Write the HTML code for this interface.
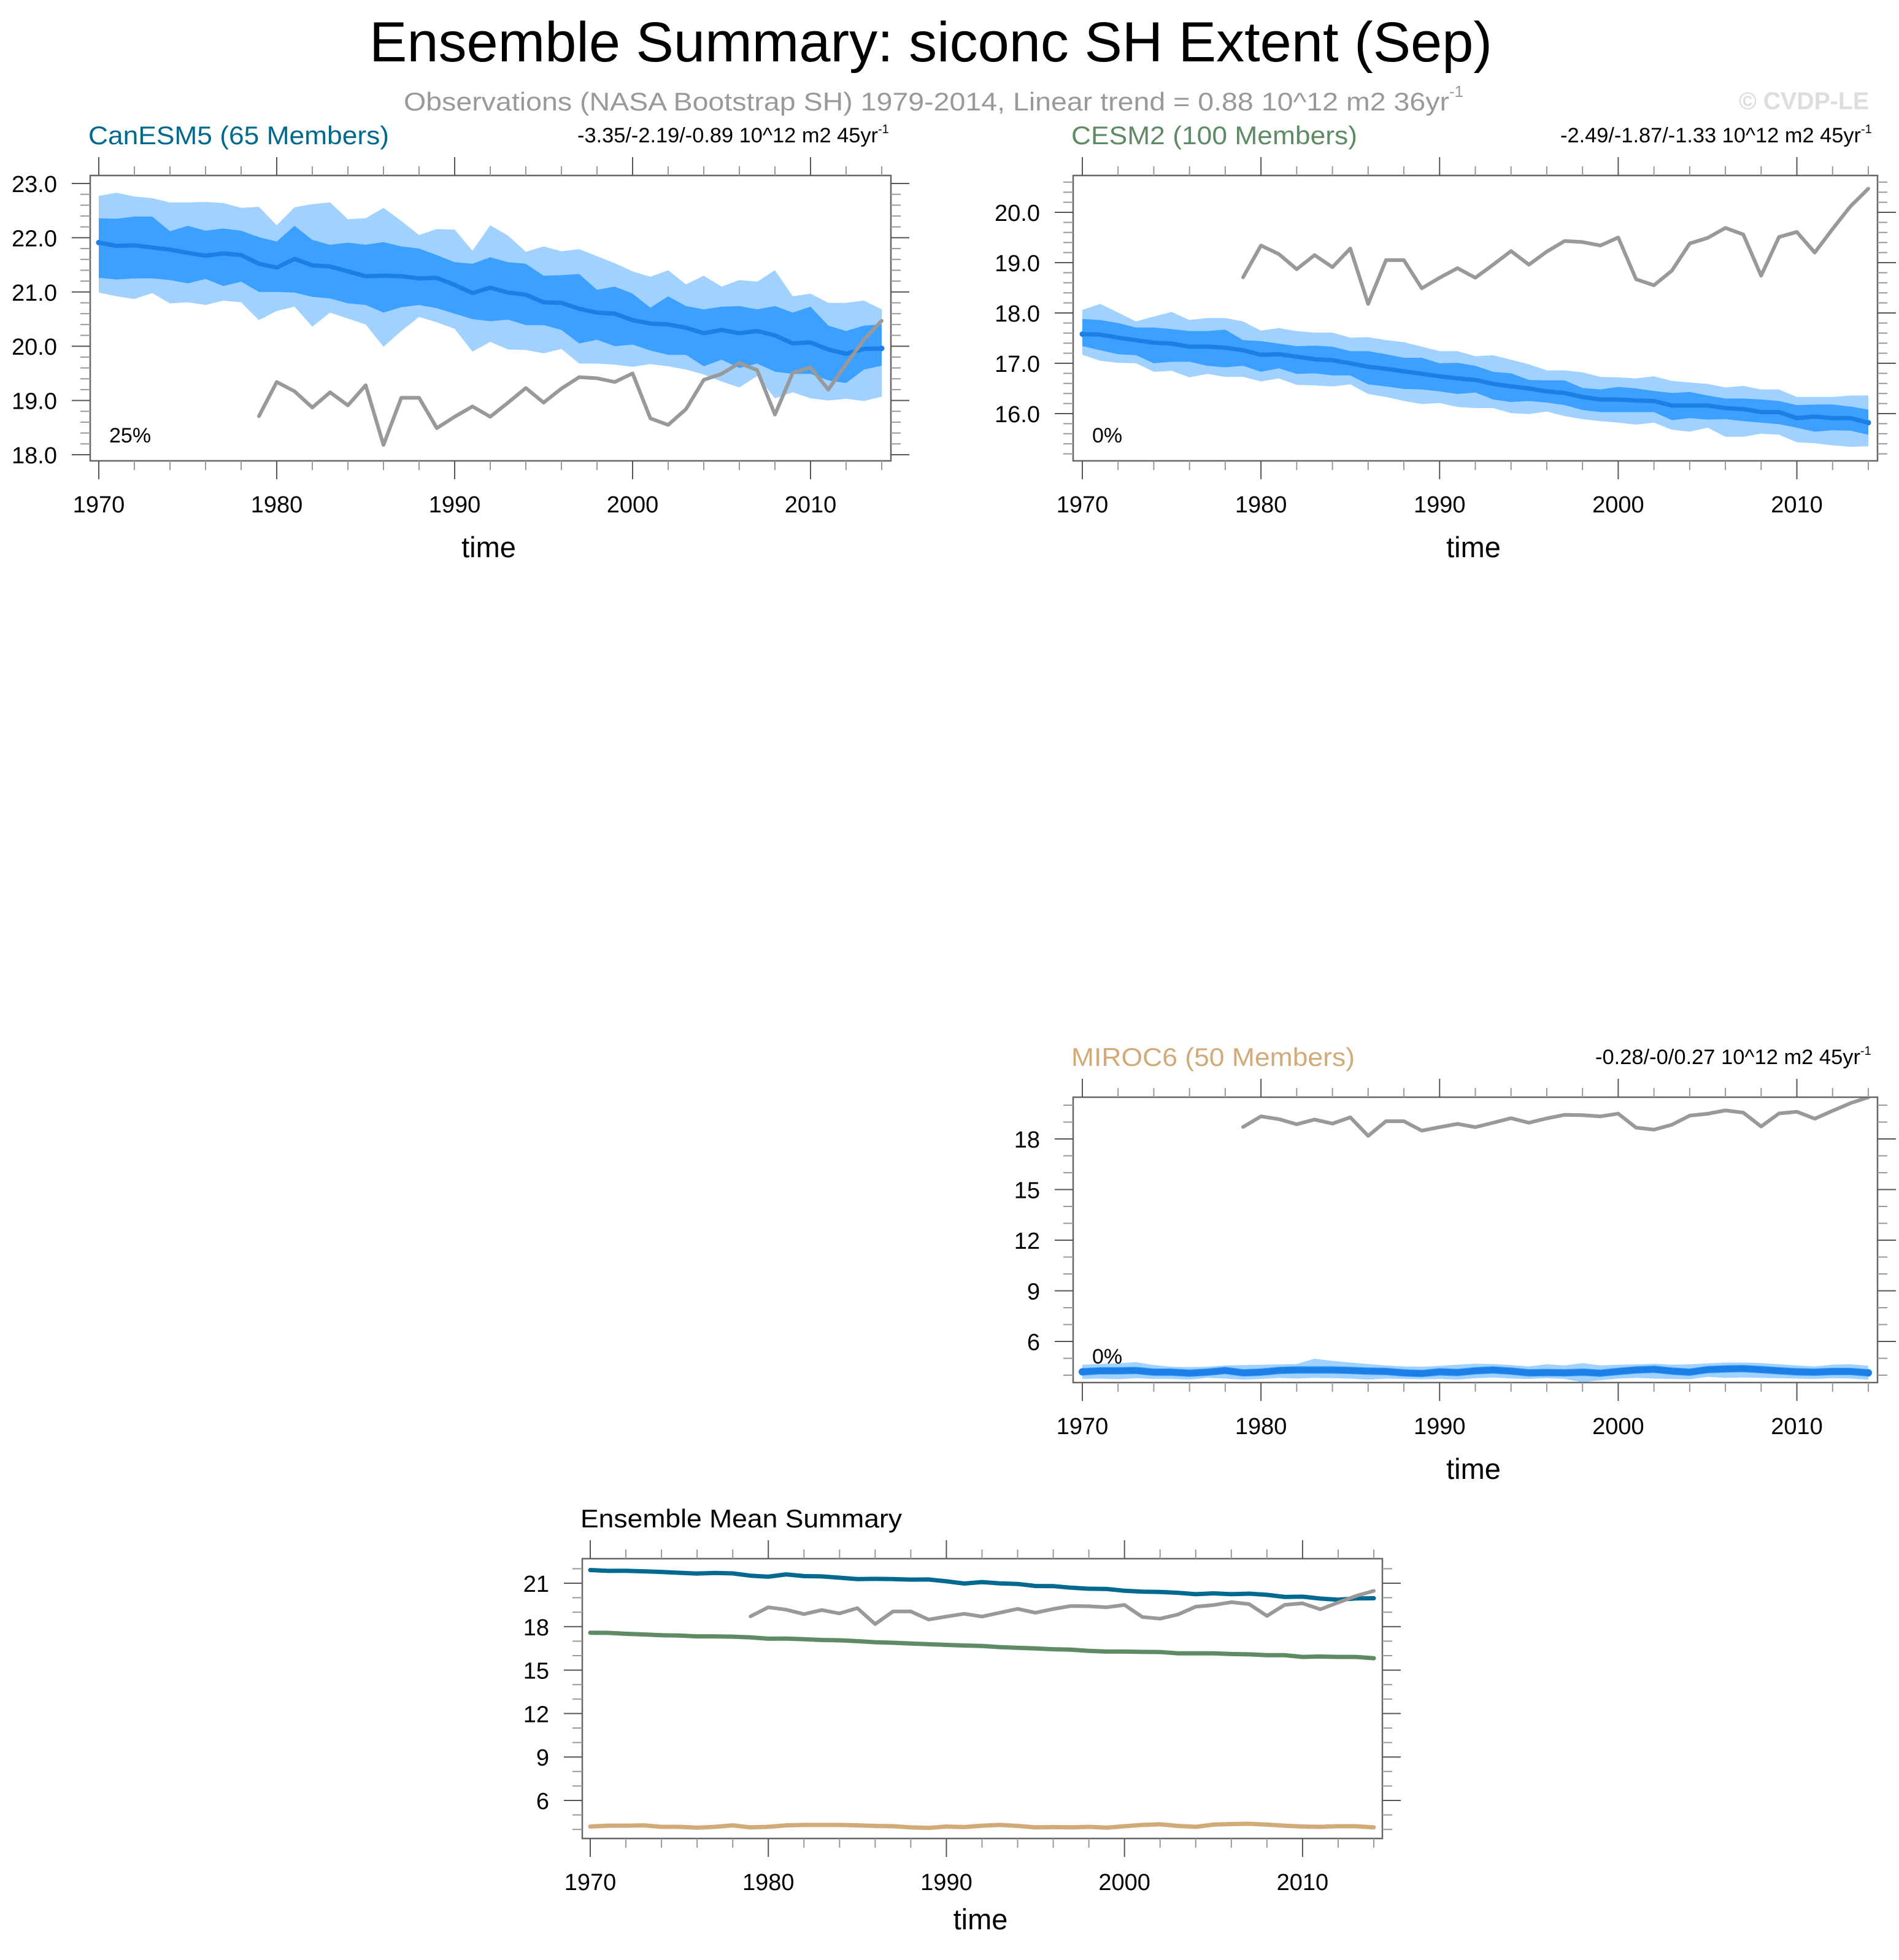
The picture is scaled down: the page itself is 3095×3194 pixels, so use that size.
<!DOCTYPE html>
<html><head><meta charset="utf-8">
<style>
html,body{margin:0;padding:0;background:#fff;}
svg{display:block;font-family:"Liberation Sans",sans-serif;}
</style></head>
<body>
<svg id="chart" width="3095" height="3194" viewBox="0 0 3095 3194" xmlns="http://www.w3.org/2000/svg">
<rect width="3095" height="3194" fill="#fff"/>
<text x="602" y="100" font-size="92" textLength="1830" lengthAdjust="spacingAndGlyphs" fill="#000">Ensemble Summary: siconc SH Extent (Sep)</text>
<text x="658" y="180" font-size="42" fill="#999"><tspan textLength="1704" lengthAdjust="spacingAndGlyphs">Observations (NASA Bootstrap SH) 1979-2014, Linear trend = 0.88 10^12 m2 36yr</tspan><tspan font-size="26" dy="-22">-1</tspan></text>
<text x="2834" y="178" font-size="40" font-weight="bold" fill="#ddd" textLength="212" lengthAdjust="spacingAndGlyphs">© CVDP-LE</text>
<g id="panels"></g>
</svg>
<script>
// ---- data ----
const years = [];
for (let y = 1970; y <= 2014; y++) years.push(y);
const obsYears = [];
for (let y = 1979; y <= 2014; y++) obsYears.push(y);
const obsValues = [18.71,19.34,19.17,18.87,19.15,18.91,19.28,18.18,19.05,19.05,18.49,18.70,18.89,18.70,18.96,19.23,18.96,19.22,19.43,19.41,19.34,19.50,18.67,18.55,18.84,19.38,19.49,19.69,19.56,18.74,19.51,19.61,19.20,19.67,20.12,20.47];

const canMean = [21.91,21.85,21.86,21.82,21.78,21.72,21.67,21.71,21.68,21.52,21.45,21.61,21.49,21.47,21.38,21.29,21.30,21.29,21.25,21.26,21.13,20.98,21.08,20.99,20.95,20.81,20.80,20.69,20.62,20.60,20.48,20.42,20.40,20.34,20.24,20.30,20.24,20.28,20.20,20.05,20.07,19.94,19.86,19.95,19.96];
const canDarkHi = [22.36,22.35,22.39,22.39,22.12,22.22,22.13,22.17,22.13,22.01,21.93,22.22,21.96,21.87,21.91,21.87,21.92,21.84,21.80,21.68,21.55,21.52,21.64,21.55,21.52,21.30,21.31,21.33,21.04,21.10,20.97,20.71,20.92,20.74,20.68,20.73,20.74,20.68,20.74,20.62,20.73,20.38,20.28,20.38,20.40];
const canDarkLo = [21.26,21.23,21.25,21.25,21.22,21.16,21.24,21.11,21.19,21.00,21.00,20.99,20.91,20.88,20.79,20.76,20.62,20.72,20.76,20.70,20.60,20.50,20.46,20.49,20.39,20.39,20.30,20.05,20.12,20.00,20.03,19.92,19.84,19.84,19.63,19.75,19.60,19.68,19.53,19.49,19.49,19.37,19.32,19.57,19.64];
const canLightHi = [22.77,22.83,22.76,22.73,22.65,22.65,22.66,22.64,22.55,22.57,22.23,22.56,22.62,22.65,22.34,22.36,22.55,22.31,22.05,22.16,22.15,21.76,22.23,22.04,21.74,21.84,21.75,21.79,21.66,21.53,21.38,21.28,21.40,21.14,21.30,21.10,21.22,21.19,21.40,20.92,20.97,20.80,20.80,20.84,20.68];
const canLightLo = [20.99,20.92,20.87,20.98,20.79,20.81,20.76,20.84,20.81,20.48,20.65,20.73,20.36,20.62,20.51,20.40,19.99,20.28,20.54,20.44,20.32,19.90,20.08,19.94,19.93,19.87,19.95,19.68,19.68,19.66,19.62,19.67,19.63,19.57,19.48,19.35,19.24,19.45,19.04,19.15,19.04,19.00,19.03,18.99,19.07];

const cesmMean = [17.58,17.57,17.51,17.46,17.41,17.39,17.33,17.33,17.31,17.26,17.17,17.18,17.13,17.08,17.06,17.00,16.93,16.89,16.84,16.79,16.74,16.70,16.67,16.59,16.54,16.50,16.44,16.41,16.33,16.28,16.28,16.26,16.25,16.16,16.16,16.16,16.11,16.09,16.03,16.03,15.91,15.94,15.91,15.91,15.82];
const cesmDarkHi = [17.88,17.86,17.80,17.71,17.71,17.68,17.64,17.64,17.67,17.46,17.44,17.39,17.34,17.35,17.33,17.24,17.24,17.18,17.11,17.11,17.00,17.01,16.95,16.83,16.80,16.67,16.66,16.66,16.51,16.48,16.53,16.50,16.45,16.41,16.43,16.36,16.30,16.30,16.28,16.25,16.17,16.18,16.18,16.14,16.08];
const cesmDarkLo = [17.34,17.26,17.18,17.16,17.00,17.03,17.03,16.95,16.92,16.95,16.83,16.90,16.79,16.80,16.76,16.76,16.58,16.54,16.49,16.48,16.44,16.39,16.42,16.28,16.23,16.25,16.22,16.17,16.07,16.03,16.03,16.03,16.03,15.87,15.91,15.88,15.89,15.85,15.82,15.79,15.72,15.64,15.67,15.66,15.58];
const cesmLightHi = [18.06,18.18,18.01,17.83,17.93,18.02,17.86,17.90,17.90,17.83,17.65,17.70,17.64,17.61,17.61,17.51,17.52,17.46,17.42,17.33,17.24,17.24,17.14,17.16,17.07,16.98,16.86,16.86,16.82,16.73,16.72,16.70,16.74,16.65,16.62,16.59,16.52,16.55,16.48,16.48,16.33,16.33,16.33,16.36,16.36];
const cesmLightLo = [17.17,17.05,17.01,17.00,16.83,16.85,16.72,16.79,16.73,16.73,16.64,16.70,16.57,16.56,16.54,16.58,16.39,16.33,16.25,16.19,16.21,16.13,16.11,16.11,16.01,15.99,16.04,15.95,15.89,15.85,15.82,15.78,15.82,15.68,15.64,15.72,15.54,15.54,15.60,15.58,15.43,15.41,15.37,15.34,15.35];

const mirocMean = [4.20,4.26,4.26,4.28,4.18,4.18,4.12,4.18,4.28,4.14,4.18,4.28,4.31,4.31,4.31,4.28,4.24,4.22,4.14,4.10,4.20,4.16,4.26,4.31,4.24,4.14,4.16,4.14,4.18,4.12,4.22,4.31,4.35,4.24,4.18,4.33,4.37,4.39,4.33,4.26,4.20,4.18,4.22,4.22,4.14];
const mirocDarkHi = [4.42,4.48,4.48,4.50,4.40,4.40,4.34,4.40,4.50,4.36,4.40,4.50,4.53,4.53,4.53,4.50,4.46,4.44,4.36,4.32,4.42,4.38,4.48,4.53,4.46,4.36,4.38,4.36,4.40,4.34,4.44,4.53,4.57,4.46,4.40,4.55,4.59,4.61,4.55,4.48,4.42,4.40,4.44,4.44,4.36];
const mirocDarkLo = [3.98,4.04,4.04,4.06,3.96,3.96,3.90,3.96,4.06,3.92,3.96,4.06,4.09,4.09,4.09,4.06,4.02,4.00,3.92,3.88,3.98,3.94,4.04,4.09,4.02,3.92,3.94,3.92,3.96,3.90,4.00,4.09,4.13,4.02,3.96,4.11,4.15,4.17,4.11,4.04,3.98,3.96,4.00,4.00,3.92];
const mirocLightHi = [4.62,4.66,4.70,4.78,4.60,4.50,4.48,4.50,4.58,4.60,4.62,4.64,4.66,4.98,4.85,4.75,4.66,4.58,4.52,4.50,4.55,4.62,4.68,4.66,4.60,4.52,4.65,4.58,4.72,4.58,4.62,4.64,4.68,4.62,4.65,4.70,4.75,4.75,4.72,4.65,4.58,4.52,4.62,4.65,4.56];
const mirocLightLo = [3.78,3.80,3.76,3.82,3.78,3.78,3.74,3.84,3.80,3.74,3.78,3.84,3.80,3.84,3.82,3.80,3.74,3.80,3.78,3.76,3.78,3.74,3.82,3.86,3.80,3.78,3.82,3.78,3.58,3.70,3.80,3.84,3.80,3.78,3.76,3.90,3.84,3.86,3.84,3.82,3.80,3.78,3.82,3.80,3.74];

const xTickLabels = [1970,1980,1990,2000,2010];
const p1YTicks = [18,19,20,21,22,23];
const p2YTicks = [16,17,18,19,20];
const p3YTicks = [6,9,12,15,18];
const p4YTicks = [6,9,12,15,18,21];

// ---- drawing ----
const NS = "http://www.w3.org/2000/svg";
const root = document.getElementById('panels');
function mk(tag, attrs, parent) {
  const e = document.createElementNS(NS, tag);
  for (const k in attrs) e.setAttribute(k, attrs[k]);
  (parent || root).appendChild(e);
  return e;
}

function panel(cfg) {
  const g = mk('g', {});
  
  
  const xs = yr => cfg.xa + (yr - 1970) * (cfg.xb - cfg.xa) / 44;
  const ys = v => cfg.ya + (v - cfg.va) * (cfg.yb - cfg.ya) / (cfg.vb - cfg.va);
  const vTop = cfg.va + (cfg.y0 - cfg.ya) * (cfg.vb - cfg.va) / (cfg.yb - cfg.ya);
  const vBot = cfg.va + (cfg.y1 - cfg.ya) * (cfg.vb - cfg.va) / (cfg.yb - cfg.ya);
  const lo = Math.min(vTop, vBot), hi = Math.max(vTop, vBot);

  const clipId = cfg.name + '-clip';
  const cp = mk('clipPath', {id: clipId}, g);
  mk('rect', {x: cfg.x0, y: cfg.y0, width: cfg.x1 - cfg.x0, height: cfg.y1 - cfg.y0}, cp);
  const plot = mk('g', {'clip-path': 'url(#' + clipId + ')'}, g);

  function band(hiArr, loArr, color, nm) {
    let d = '';
    years.forEach((y, i) => { d += (i ? 'L' : 'M') + xs(y).toFixed(1) + ',' + ys(hiArr[i]).toFixed(1); });
    for (let i = years.length - 1; i >= 0; i--) d += 'L' + xs(years[i]).toFixed(1) + ',' + ys(loArr[i]).toFixed(1);
    const p = mk('path', {d: d + 'Z', fill: color}, plot);
    
    
  }
  function line(xArr, vArr, color, w, nm) {
    const pts = xArr.map((y, i) => xs(y).toFixed(1) + ',' + ys(vArr[i]).toFixed(1)).join(' ');
    const p = mk('polyline', {points: pts, fill: 'none', stroke: color, 'stroke-width': w, 'stroke-linejoin': 'round', 'stroke-linecap': 'round'}, plot);
    
    
  }
  if (cfg.bands) {
    const b = cfg.bands;
    band(b.lh, b.ll, '#a0d1ff', 'spread-10-90-band');
    band(b.dh, b.dl, '#3ba0ff', 'spread-25-75-band');
    line(years, b.m, '#1b7fe6', cfg.meanW || 7, 'ensemble-mean-line');
    mk('circle', {cx: xs(1970), cy: ys(b.m[0]), r: (cfg.meanW || 7) / 2 + 1, fill: '#1b7fe6'}, plot);
    mk('circle', {cx: xs(2014), cy: ys(b.m[44]), r: (cfg.meanW || 7) / 2 + 1, fill: '#1b7fe6'}, plot);
  }
  if (cfg.lines) cfg.lines.forEach(l => line(years, l.v, l.c, 7, l.n));
  line(obsYears, obsValues, '#999999', 6, 'observations-line');

  const box = mk('rect', {x: cfg.x0, y: cfg.y0, width: cfg.x1 - cfg.x0, height: cfg.y1 - cfg.y0, fill: 'none', stroke: '#666', 'stroke-width': 2.5}, g);
  
  

  for (let y = 1970; y <= 2014; y += 2) {
    const major = (y % 10 === 0);
    const L = major ? 30 : 15, x = xs(y);
    mk('line', {x1: x, x2: x, y1: cfg.y0, y2: cfg.y0 - L, stroke: major ? '#555' : '#999', 'stroke-width': 2}, g);
    mk('line', {x1: x, x2: x, y1: cfg.y1, y2: cfg.y1 + L, stroke: major ? '#555' : '#999', 'stroke-width': 2}, g);
  }
  xTickLabels.forEach(y => {
    const t = mk('text', {x: xs(y), y: cfg.y1 + 84, 'font-size': 38, 'text-anchor': 'middle', fill: '#000'}, g);
    t.textContent = y;
    
    
  });
  const xt = mk('text', {x: (cfg.x0 + cfg.x1) / 2 - 3, y: cfg.y1 + (cfg.timeOff || 157), 'font-size': 47, 'text-anchor': 'middle', fill: '#000'}, g);
  xt.textContent = 'time';
  
  

  const step = cfg.minor;
  for (let v = Math.ceil(lo / step - 1e-6) * step; v <= hi + 1e-6; v += step) {
    const vv = Math.round(v * 100) / 100;
    const major = cfg.yt.some(t => Math.abs(t - vv) < 1e-6);
    const L = major ? 30 : 16, y = ys(vv);
    mk('line', {x1: cfg.x0, x2: cfg.x0 - L, y1: y, y2: y, stroke: major ? '#555' : '#999', 'stroke-width': 2}, g);
    mk('line', {x1: cfg.x1, x2: cfg.x1 + L, y1: y, y2: y, stroke: major ? '#555' : '#999', 'stroke-width': 2}, g);
  }
  cfg.yt.forEach(v => {
    const t = mk('text', {x: cfg.x0 - 54, y: ys(v) + 14, 'font-size': 38, 'text-anchor': 'end', fill: '#000'}, g);
    t.textContent = cfg.dec ? v.toFixed(1) : v;
    
    
  });

  const tt = mk('text', {x: cfg.x0 - 3, y: cfg.y0 - 51, 'font-size': 42, fill: cfg.tc, textLength: cfg.tl, lengthAdjust: 'spacingAndGlyphs'}, g);
  tt.textContent = cfg.title;
  
  
  if (cfg.trend) {
    const tr = mk('text', {x: cfg.trX, y: cfg.y0 - 54, 'font-size': 34, fill: '#000'}, g);
    const a = mk('tspan', {textLength: cfg.trL, lengthAdjust: 'spacingAndGlyphs'}, tr); a.textContent = cfg.trend;
    const b = mk('tspan', {'font-size': 20, dy: -15}, tr); b.textContent = '-1';
    
    
  }
  if (cfg.pct) {
    const p = mk('text', {x: cfg.x0 + 31, y: cfg.pctY, 'font-size': 34, fill: '#000'}, g);
    p.textContent = cfg.pct;
    
    
  }
}

panel({name: 'canesm5-panel', x0: 147, x1: 1452, y0: 286, y1: 751, xa: 161, xb: 1437, ya: 299, yb: 741, va: 23, vb: 18,
  minor: 0.2, yt: p1YTicks, dec: true, title: 'CanESM5 (65 Members)', tc: '#00698f', tl: 490,
  trend: '-3.35/-2.19/-0.89 10^12 m2 45yr', trX: 941, trL: 490, pct: '25%', pctY: 721,
  bands: {m: canMean, dh: canDarkHi, dl: canDarkLo, lh: canLightHi, ll: canLightLo}});
panel({name: 'cesm2-panel', x0: 1749, x1: 3060, y0: 286, y1: 751, xa: 1764, xb: 3045, ya: 346, yb: 674, va: 20, vb: 16,
  minor: 0.2, yt: p2YTicks, dec: true, title: 'CESM2 (100 Members)', tc: '#5e8a64', tl: 466,
  trend: '-2.49/-1.87/-1.33 10^12 m2 45yr', trX: 2543, trL: 490, pct: '0%', pctY: 721,
  bands: {m: cesmMean, dh: cesmDarkHi, dl: cesmDarkLo, lh: cesmLightHi, ll: cesmLightLo}});
panel({name: 'miroc6-panel', x0: 1749, x1: 3060, y0: 1788, y1: 2253, xa: 1764, xb: 3045, ya: 1856, yb: 2186, va: 18, vb: 6,
  minor: 1, yt: p3YTicks, dec: false, title: 'MIROC6 (50 Members)', tc: '#d2aa78', tl: 462,
  trend: '-0.28/-0/0.27 10^12 m2 45yr', trX: 2600, trL: 432, pct: '0%', pctY: 2222, meanW: 10,
  bands: {m: mirocMean, dh: mirocDarkHi, dl: mirocDarkLo, lh: mirocLightHi, ll: mirocLightLo}});
panel({name: 'ensemble-mean-panel', x0: 949, x1: 2253, y0: 2540, y1: 2996, xa: 962, xb: 2239, ya: 2580, yb: 2934, va: 21, vb: 6,
  minor: 1, yt: p4YTicks, dec: false, title: 'Ensemble Mean Summary', tc: '#000', tl: 524, timeOff: 148,
  lines: [{v: canMean, c: '#00698f', n: 'canesm5-mean-line'}, {v: cesmMean, c: '#5e8a64', n: 'cesm2-mean-line'}, {v: mirocMean, c: '#d2aa78', n: 'miroc6-mean-line'}]});
</script>
</body></html>
